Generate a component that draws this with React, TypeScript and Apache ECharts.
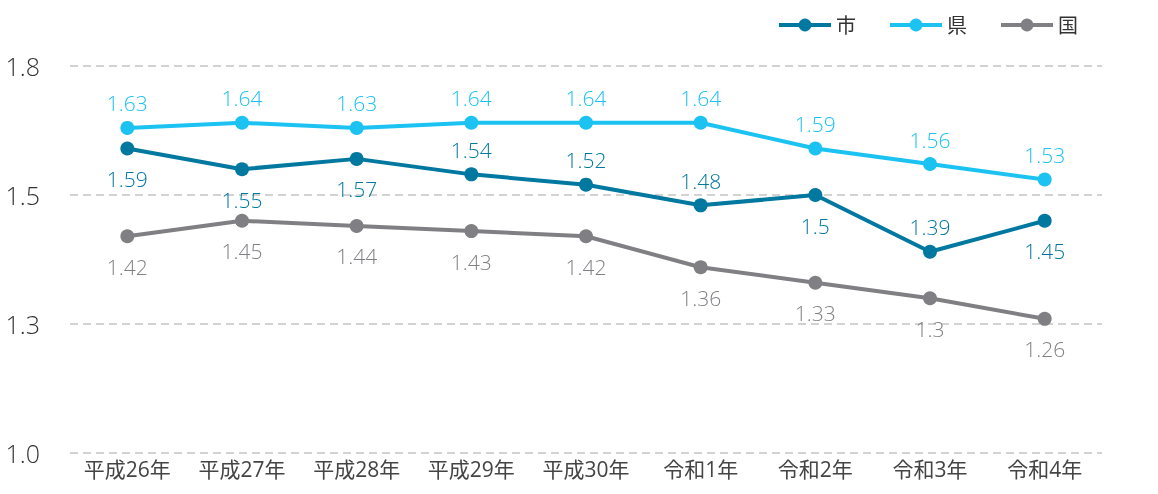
import React, { useEffect, useRef } from "react";
import * as echarts from "echarts";

const categories = ["平成26年", "平成27年", "平成28年", "平成29年", "平成30年", "令和1年", "令和2年", "令和3年", "令和4年"];
const shiValues = [1.59, 1.55, 1.57, 1.54, 1.52, 1.48, 1.5, 1.39, 1.45];
const shiLabelPos = ["bottom", "bottom", "bottom", "top", "top", "top", "bottom", "top", "bottom"];
const kenValues = [1.63, 1.64, 1.63, 1.64, 1.64, 1.64, 1.59, 1.56, 1.53];
const kuniValues = [1.42, 1.45, 1.44, 1.43, 1.42, 1.36, 1.33, 1.3, 1.26];
const seriesNames = ["市", "県", "国"];
const colors = ["#00789f", "#1cc2f2", "#808084"];

const FONT = "'Open Sans', 'Noto Sans CJK JP', sans-serif";

export default function App() {
  const ref = useRef<HTMLDivElement>(null);
  useEffect(() => {
    if (!ref.current) return;
    const chart = echarts.init(ref.current, null, { renderer: "svg" });
    const mkSeries = (name: string, vals: number[], color: string, pos: (i: number) => string) => ({
      name,
      type: "line",
      data: vals.map((v, i) => ({
        value: v,
        label: { position: pos(i), distance: pos(i) === "top" ? 7 : 13 },
      })),
      symbol: "circle",
      symbolSize: 14,
      lineStyle: { width: 4, color },
      itemStyle: { color },
      label: {
        show: true,
        color,
        fontSize: 21,
        fontFamily: FONT,
        fontWeight: 300,
      },
    });
    chart.setOption({
      animation: false,
      color: colors,
      textStyle: { fontFamily: FONT },
      legend: {
        top: 10,
        right: 75,
        itemWidth: 52,
        itemHeight: 16,
        itemGap: 32,
        lineStyle: { width: 4 },
        textStyle: { fontSize: 20, color: "#333", fontFamily: FONT },
        data: seriesNames,
      },
      grid: { left: 70, right: 56, top: 66, bottom: 41, containLabel: false },
      xAxis: {
        type: "category",
        data: categories,
        boundaryGap: true,
        axisLine: { show: false },
        axisTick: { show: false },
        axisLabel: { fontSize: 21, color: "#444", fontFamily: FONT, margin: 5 },
      },
      yAxis: {
        type: "value",
        min: 1.0,
        max: 1.75,
        interval: 0.25,
        axisLine: { show: false },
        axisTick: { show: false },
        splitLine: { lineStyle: { color: "#c4c4c4", type: [8, 5], width: 1.5 } },
        axisLabel: {
          fontSize: 25,
          color: "#333",
          fontFamily: FONT,
          fontWeight: 300,
          margin: 30,
          formatter: (v: number) => v.toFixed(1),
        },
      },
      series: [
        mkSeries(seriesNames[0], shiValues, colors[0], (i) => shiLabelPos[i]),
        mkSeries(seriesNames[1], kenValues, colors[1], () => "top"),
        mkSeries(seriesNames[2], kuniValues, colors[2], () => "bottom"),
      ],
    });
    return () => chart.dispose();
  }, []);
  return <div ref={ref} style={{ position: "fixed", left: 0, top: 0, width: 1158, height: 494 }} />;
}
